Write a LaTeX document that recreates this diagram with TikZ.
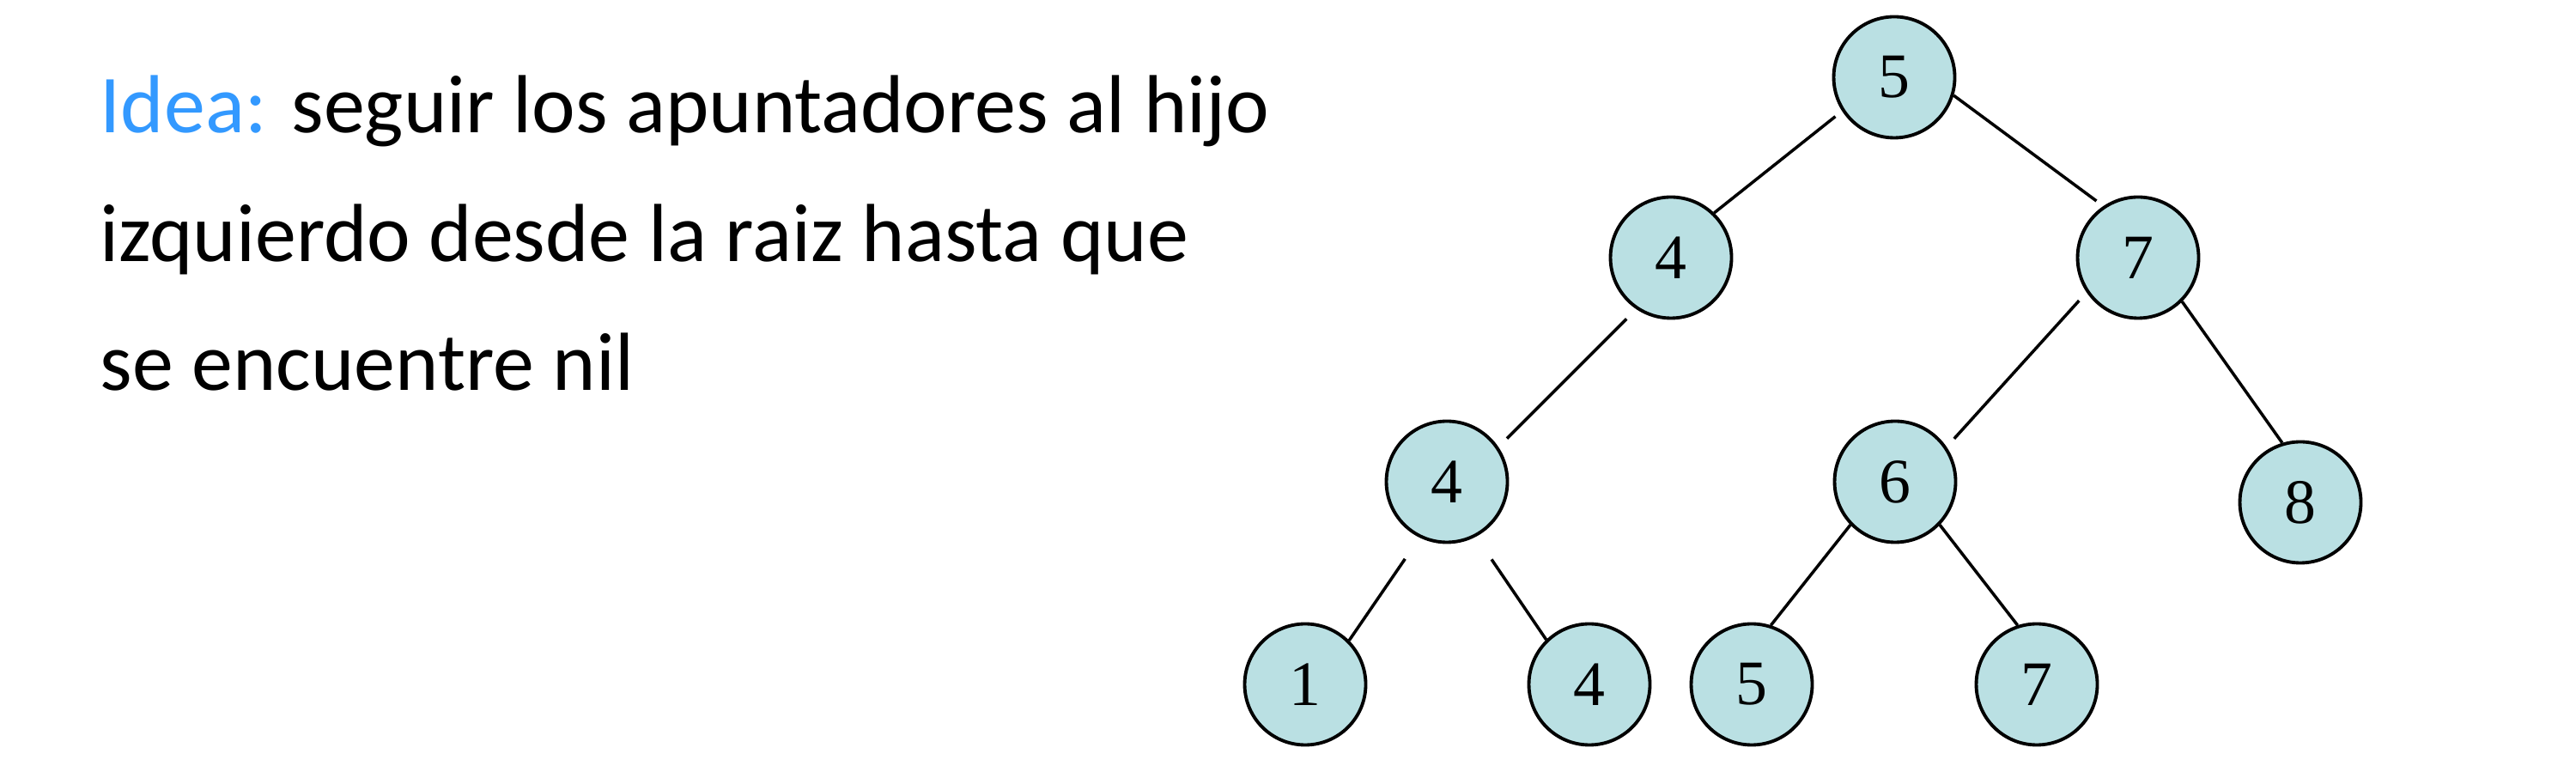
\documentclass[tikz,border=0pt]{standalone}
\usepackage{fontspec}
\usepackage{tikz}
\setmainfont{Carlito}
\newfontfamily\numfont{Liberation Serif}
\definecolor{nodefill}{RGB}{186,224,227}
\definecolor{ideablue}{RGB}{51,153,255}

\begin{document}
\begin{tikzpicture}[line width=1pt,
  bst/.style={circle,draw,line width=1.1pt,fill=nodefill,minimum size=1.41cm,inner sep=0pt,
    font=\numfont\fontsize{21}{21}\selectfont},
  txt/.style={anchor=base west,inner sep=0pt,font=\fontsize{27.3}{27.3}\selectfont}]
  \useasboundingbox (0,0) rectangle (30,-8.99);

  \node[txt] (line1) at (1.15,-1.55) {\textcolor{ideablue}{Idea:} seguir los apuntadores al hijo};
  \node[txt] (line2) at (1.15,-3.05) {izquierdo desde la raiz hasta que};
  \node[txt] (line3) at (1.15,-4.55) {se encuentre nil};

  \node[bst] (root) at (22.06,-0.90) {5};
  \node[bst] (l)    at (19.46,-3.00) {4};
  \node[bst] (r)    at (24.90,-3.00) {7};
  \node[bst] (ll)   at (16.85,-5.61) {4};
  \node[bst] (rl)   at (22.07,-5.61) {6};
  \node[bst] (rr)   at (26.79,-5.85) {8};
  \node[bst] (lll)  at (15.20,-7.97) {1};
  \node[bst] (llr)  at (18.51,-7.97) {4};
  \node[bst] (rll)  at (20.40,-7.97) {5};
  \node[bst] (rlr)  at (23.72,-7.97) {7};

  \draw[shorten <=0.1cm] (root.213) -- (l.46);
  \draw[shorten >=0.1cm] (root.343) -- (r.124);
  \draw[shorten <=0.16cm,shorten >=0.14cm] (l.236) -- (ll.34);
  \draw[shorten <=0.13cm,shorten >=0.13cm] (r.214) -- (rl.34);
  \draw (r.315) -- (rr.107);
  \draw[shorten <=0.3cm] (ll.244) -- (lll.45);
  \draw[shorten <=0.32cm] (ll.298) -- (llr.134);
  \draw (rl.224) -- (rll.72);
  \draw (rl.316) -- (rlr.108);
\end{tikzpicture}
\end{document}
